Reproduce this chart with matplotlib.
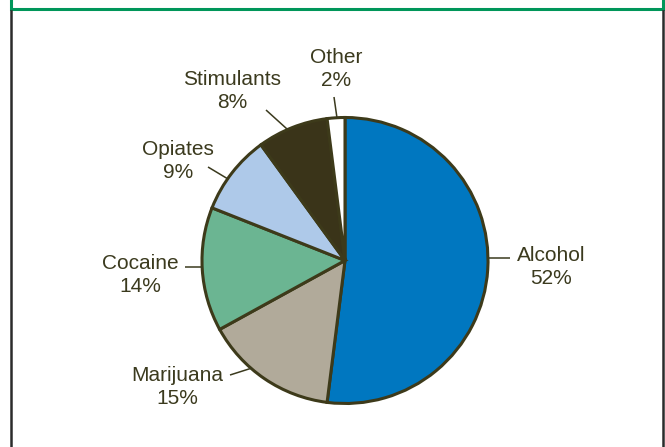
import matplotlib
matplotlib.use("Agg")
import matplotlib.pyplot as plt

# data
labels = ["Alcohol", "Marijuana", "Cocaine", "Opiates", "Stimulants", "Other"]
shares = [52, 15, 14, 9, 8, 2]
colors = ["#0077C0", "#B1AA9A", "#6BB592", "#AEC9E9", "#3A3419", "#FFFFFF"]

# layout in pixel coords (y measured from top), tuned by eye
W, H = 665, 447
cx, cy, rad = 345, 260.5, 143
text_pos = [(551, 267), (177, 387), (140, 275), (178, 161), (232, 91), (336, 69)]
line_pos = [((488, 258), (510, 258)),
            ((252, 368), (230, 375)),
            ((203, 267), (185, 267)),
            ((228, 179), (208, 167)),
            ((287, 129), (266, 110)),
            ((337, 118), (334, 97))]

ink = "#3B3A1E"
edge = "#3D3A1A"
green = "#00965A"

plt.rcParams['font.family'] = ['Liberation Sans', 'DejaVu Sans']

fig = plt.figure(figsize=(W / 100, H / 100), dpi=100)
ax = fig.add_axes([0, 0, 1, 1])

def py(y):
    return H - y

ax.pie(shares, colors=colors, startangle=90, counterclock=False,
       center=(cx, py(cy)), radius=rad, frame=True,
       wedgeprops=dict(edgecolor=edge, linewidth=2.2))
ax.set_xlim(0, W)
ax.set_ylim(0, H)
ax.set_aspect("equal")
ax.axis("off")

for lab, s, (tx, ty), (p0, p1) in zip(labels, shares, text_pos, line_pos):
    ax.text(tx, py(ty), "%s\n%d%%" % (lab, s), ha="center", va="center",
            fontsize=15, color=ink, linespacing=1.25)
    ax.plot([p0[0], p1[0]], [py(p0[1]), py(p1[1])], color=ink, lw=1.1,
            solid_capstyle="butt")

# frame: green top strip, dark side rules
ax.plot([10.5, 10.5, 663, 663], [py(0), py(9), py(9), py(0)], color=green,
        lw=2.2, solid_joinstyle="miter")
ax.plot([10.5, 10.5], [py(10.5), py(H)], color="#2B2B2B", lw=1.8)
ax.plot([663, 663], [py(10.5), py(H)], color="#2B2B2B", lw=1.8)

fig.savefig("out.png", dpi=100)
